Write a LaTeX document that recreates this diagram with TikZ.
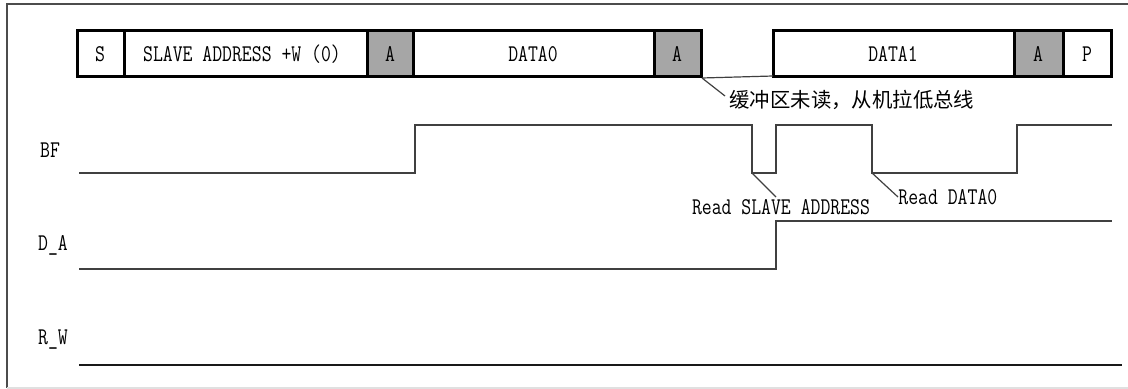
\documentclass[tikz,border=0pt]{standalone}
\usepackage{fontspec}
\usepackage{tikz}
\newfontfamily\cjk{Noto Sans CJK SC}
\newfontfamily\lmmono[FakeStretch=0.8]{Latin Modern Mono}
\definecolor{ackgray}{HTML}{A6A6A6}
\definecolor{wavegray}{HTML}{404040}

\begin{document}
\begin{tikzpicture}[x=0.5pt,y=-0.5pt,
    field/.style={draw=black,line width=1.5pt},
    wave/.style={draw=wavegray,line width=0.6pt},
    lbl/.style={font=\lmmono\fontsize{12}{13}\selectfont,inner sep=0pt}]
            \useasboundingbox (0,0) rectangle (1128,389);
            % frame
            \draw[black!70,line width=0.7pt] (1128,4) -- (7,4) -- (7,388);
            \draw[black!12,line width=0.9pt] (7,388) -- (1128,388);
            % frame fields
            \fill[ackgray] (367,31) rectangle (413,77);
            \fill[ackgray] (654,31) rectangle (701,77);
            \fill[ackgray] (1014,31) rectangle (1063,77);
            \draw[field] (77,31) rectangle (701,77);
            \draw[field] (124,31) -- (124,77);
            \draw[field] (367,31) -- (367,77);
            \draw[field] (413,31) -- (413,77);
            \draw[field] (654,31) -- (654,77);
            \draw[field] (773,31) rectangle (1111,77);
            \draw[field] (1014,31) -- (1014,77);
            \draw[field] (1063,31) -- (1063,77);
            \node[lbl] (start) at (100,54) {S};
            \node[lbl] (slave) at (242,54) {SLAVE ADDRESS +W (0)};
            \node[lbl] (ack1) at (390,54) {A};
            \node[lbl] (data0) at (533,54) {DATA0};
            \node[lbl] (ack2) at (677,54) {A};
            \node[lbl] (data1) at (893,54) {DATA1};
            \node[lbl] (ack3) at (1038,54) {A};
            \node[lbl] (stop) at (1087,54) {P};
            % clock stretching note
            \coordinate (gapl) at (702,78);
            \coordinate (gapr) at (773,76);
            \coordinate (hold) at (725,96);
            \draw[wave] (gapl) -- (gapr);
            \draw[wave] (gapl) -- (hold);
            \node[anchor=west,inner sep=0pt,font=\cjk\fontsize{10.2}{12}\selectfont] (hold note) at (729,100) {缓冲区未读，从机拉低总线};
            % signal names
            \node[lbl] (bf) at (50,150) {BF};
            \node[lbl] (da) at (53,245) {D\_A};
            \node[lbl] (rw) at (53,340) {R\_W};
            % waveforms
            \draw[wave] (79,173) -- (415,173) -- (415,125) -- (752,125) -- (752,173) -- (776,173) -- (776,125)
                -- (872,125) -- (872,173) -- (1017,173) -- (1017,125) -- (1112,125);
            \draw[wave] (79,269) -- (776,269) -- (776,221) -- (1112,221);
            \draw[wave,black!90] (79,365) -- (1122,365);
            % read events
            \coordinate (rdaddr) at (752,173);
            \coordinate (rddata) at (872,173);
            \node[lbl] (rdaddr note) at (781,207) {Read SLAVE ADDRESS};
            \node[lbl,anchor=west] (rddata note) at (898,197) {Read DATA0};
            \draw[wave] (rdaddr) -- (776,197);
            \draw[wave] (rddata) -- (rddata note.west);
        \end{tikzpicture}
\end{document}
